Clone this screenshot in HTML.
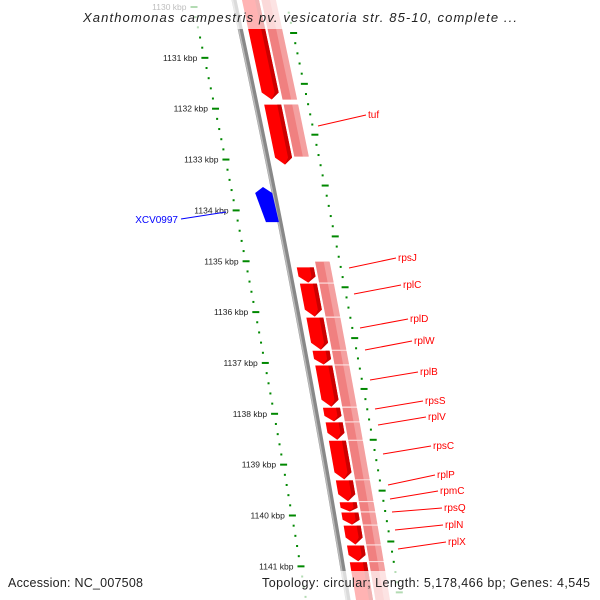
<!DOCTYPE html>
<html><head><meta charset="utf-8"><style>
html,body{margin:0;padding:0;background:#fff;width:600px;height:600px;overflow:hidden}
#wrap{position:relative;width:600px;height:600px;overflow:hidden}
svg{display:block;font-family:"Liberation Sans",sans-serif;position:absolute;left:0;top:0}
</style></head><body>
<div id="wrap">
<svg id="map" width="600" height="600" viewBox="0 0 600 600">
<g id="layer"></g>
</svg>
<svg width="600" height="600">
<rect x="0" y="0" width="600" height="29" fill="#fff" opacity="0.7"/>
<text x="83" y="22" font-size="13" font-style="italic" fill="#222" textLength="434" lengthAdjust="spacing">Xanthomonas campestris pv. vesicatoria str. 85-10, complete ...</text>
<rect x="0" y="571" width="600" height="29" fill="#fff" opacity="0.7"/>
<text x="8" y="587" font-size="12.5" fill="#222" textLength="135" lengthAdjust="spacing">Accession: NC_007508</text>
<text x="262" y="587" font-size="12.5" fill="#222" textLength="328" lengthAdjust="spacing">Topology: circular; Length: 5,178,466 bp; Genes: 4,545</text>
</svg>
</div>
<script>
// Data (kbp)
const tickKbp=[1130,1131,1132,1133,1134,1135,1136,1137,1138,1139,1140,1141];
const fwdNames=['gene-a','tuf','rpsJ','rplC','rplD','rplW','rplB','rpsS','rplV','rpsC','rplP','rpmC','rpsQ','rplN','rplX','gene-b'];
const fwdStart=[1129.7,1131.91,1135.11,1135.43,1136.10,1136.75,1137.04,1137.87,1138.16,1138.52,1139.30,1139.73,1139.93,1140.19,1140.58,1140.91];
const fwdEnd  =[1131.83,1133.11,1135.43,1136.10,1136.75,1137.04,1137.87,1138.16,1138.52,1139.30,1139.73,1139.93,1140.19,1140.58,1140.91,1141.9];
const revNames=['XCV0997'];
const revStart=[1133.54];
const revEnd=[1134.23];
const pinkStart=[1129.7,1131.91,1135.0,1135.43,1136.10,1136.75,1137.04,1137.87,1138.16,1138.52,1139.30,1139.73,1139.93,1140.19,1140.58,1140.91];
const pinkEnd  =[1131.83,1132.95,1135.43,1136.10,1136.75,1137.04,1137.87,1138.16,1138.52,1139.30,1139.73,1139.93,1140.19,1140.58,1140.91,1141.9];
const labelNames=['tuf','rpsJ','rplC','rplD','rplW','rplB','rpsS','rplV','rpsC','rplP','rpmC','rpsQ','rplN','rplX'];

const NS='http://www.w3.org/2000/svg';
const L=document.getElementById('layer');
function Y(k){return 7+(k-1130)*50.85;}
function bx(y){return 234+0.2167*y-4.44e-5*y*y;}
function mk(t,a,p){const e=document.createElementNS(NS,t);for(const k in a)e.setAttribute(k,a[k]);(p||L).appendChild(e);return e;}
function band(y1,y2,o1,o2){return `${bx(y1)+o1},${y1} ${bx(y1)+o2},${y1} ${bx(y2)+o2},${y2} ${bx(y2)+o1},${y2}`;}

// dotted tick lines
for(let i=-2;i<=62;i++){
  const k=1130+i*0.2;
  const y=Y(k);const isMaj=(i%5===0);
  const xl=bx(y)-42;
  const d=mk('rect',{x:isMaj?xl-3:xl-1,y:y-1,width:isMaj?7:2,height:2,fill:'#080'});
  
  
  const y2=y+26;const xr=bx(y2)+52;
  const d2=mk('rect',{x:isMaj?xr-3:xr-1,y:y2-1,width:isMaj?7:2,height:2,fill:'#080'});
  
  
}
tickKbp.forEach(k=>{
  const y=Y(k);
  const t=mk('text',{x:bx(y)-49,y:y+3,'font-size':'8.5','text-anchor':'end',fill:'#222'});
  t.textContent=k+' kbp';
  
  
});

// backbone
let pts=[];for(let y=-5;y<=605;y+=10)pts.push(`${bx(y)},${y}`);
const bb=mk('polyline',{points:pts.join(' '),fill:'none',stroke:'#888','stroke-width':5});


const bb2=mk('polyline',{points:pts.map(p=>{const [x,y]=p.split(',');return (x-1.5)+','+y}).join(' '),fill:'none',stroke:'#bbb','stroke-width':1.5});



// pink track
pinkStart.forEach((s,i)=>{
  const y1=Y(s),y2=Y(pinkEnd[i]);
  const p=mk('polygon',{points:band(y1,y2,27,42),fill:'#f08080',stroke:'#fff','stroke-width':0.8});
  
  
  const p2=mk('polygon',{points:band(y1+0.5,y2-0.5,36,42),fill:'#f4a0a0'});
  
  
});

// forward genes
fwdStart.forEach((s,i)=>{
  const y1=Y(s)+0.5,y2=Y(fwdEnd[i])-0.5;const h=Math.min(7,(y2-y1)*0.4);
  const a=bx(y1),b=bx(y2-h),c=bx(y2);
  const pts=`${a+8},${y1} ${a+25},${y1} ${b+25},${y2-h} ${c+16.5},${y2} ${b+8},${y2-h}`;
  const g=mk('polygon',{points:pts,fill:'#f00'});
  
  
  const sh=mk('polygon',{points:`${a+21},${y1} ${a+25},${y1} ${b+25},${y2-h} ${c+16.5},${y2} ${b+21},${y2-h}`,fill:'#c00'});
  
  
});

// reverse genes
revStart.forEach((s,i)=>{
  const y1=Y(s),y2=Y(revEnd[i]);const h=6;
  const a=bx(y1),b=bx(y1+h),c=bx(y2);
  const pts=`${a-10},${y1} ${b-2},${y1+h} ${c-1},${y2} ${c-14},${y2} ${b-19},${y1+h}`;
  const g=mk('polygon',{points:pts,fill:'#00f'});
  
  
  const ln=mk('line',{x1:226,y1:212,x2:181,y2:219,stroke:'#00f','stroke-width':1});
  
  
  const t=mk('text',{x:178,y:223,'font-size':'10','text-anchor':'end',fill:'#00f'});
  t.textContent=revNames[i];
  
  
});

// labels (layout positions)
const lblPos=[[368,114,318,126],[398,257,349,268],[403,284,354,294],[410,318,360,328],[414,340,365,350],[420,371,370,380],[425,400,375,409],[428,416,378,425],[433,445,383,454],[437,474,388,485],[440,490,390,499],[444,507,392,512],[445,524,395,530],[448,541,398,549]];
labelNames.forEach((n,i)=>{
  const [tx,ty,sx,sy]=lblPos[i];
  const ln=mk('line',{x1:sx,y1:sy,x2:tx-2,y2:ty+1,stroke:'#f00','stroke-width':1});
  
  
  const t=mk('text',{x:tx,y:ty+4,'font-size':'10',fill:'#f00'});
  t.textContent=n;
  
  
});
</script>
</body></html>
